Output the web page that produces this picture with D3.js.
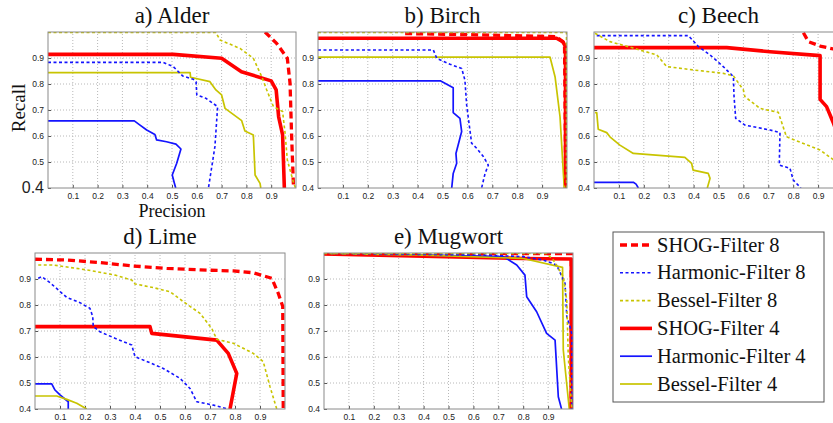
<!DOCTYPE html>
<meta charset="utf-8">
<style>
  body{ margin:0; background:#fff; }
  .tick text{ font-family: "Liberation Sans", Arial, sans-serif; font-size: 8.5px; fill: #222; }
  .tick line{ stroke: #555; }
  text.serif{ font-family: "Liberation Serif", "Times New Roman", "DejaVu Serif", serif; fill: #111; }
  .grid line{ stroke: #b8b8b8; stroke-dasharray: 1,2; }
</style>

<svg width="833" height="423"></svg>

<script src="https://d3js.org/d3.v7.min.js"></script>
<script>
  // data: [precision, recall] pairs
  const seriesNames = ['SHOG-Filter 8', 'Harmonic-Filter 8', 'Bessel-Filter 8',
                       'SHOG-Filter 4', 'Harmonic-Filter 4', 'Bessel-Filter 4']
  const panelTitles = ['a) Alder', 'b) Birch', 'c) Beech', 'd) Lime', 'e) Mugwort']
  const xTicks = [0.1, 0.2, 0.3, 0.4, 0.5, 0.6, 0.7, 0.8, 0.9]
  const yTicks = [0.4, 0.5, 0.6, 0.7, 0.8, 0.9]

  const alderShog8 = [[0.875,1.0],[0.922,0.956],[0.965,0.899],[0.976,0.803],[0.982,0.61],[0.99,0.4]]
  const alderHarm8 = [[0,0.883],[0.465,0.883],[0.505,0.867],[0.543,0.831],[0.586,0.818],[0.597,0.809],[0.6,0.758],[0.637,0.745],[0.684,0.713],[0.673,0.559],[0.647,0.4]]
  const alderBessel8 = [[0,0.998],[0.677,0.998],[0.694,0.969],[0.774,0.937],[0.828,0.899],[0.862,0.828],[0.882,0.777],[0.909,0.713],[0.946,0.694],[0.956,0.61],[0.965,0.508],[0.989,0.424],[0.998,0.4]]
  const alderShog4 = [[0,0.914],[0.505,0.914],[0.70,0.899],[0.78,0.847],[0.90,0.812],[0.92,0.777],[0.93,0.674],[0.946,0.604],[0.953,0.4]]
  const alderHarm4 = [[0,0.658],[0.348,0.658],[0.371,0.642],[0.398,0.623],[0.431,0.606],[0.438,0.585],[0.478,0.578],[0.516,0.569],[0.536,0.55],[0.519,0.495],[0.501,0.45],[0.508,0.424],[0.515,0.4]]
  const alderBessel4 = [[0,0.844],[0.573,0.844],[0.575,0.826],[0.653,0.809],[0.677,0.777],[0.7,0.758],[0.714,0.706],[0.781,0.659],[0.794,0.619],[0.828,0.604],[0.835,0.45],[0.855,0.418],[0.858,0.4]]

  const birchShog8 = [[0.35,0.994],[0.6,0.99],[0.958,0.982],[0.99,0.956],[0.995,0.4]]
  const birchHarm8 = [[0,0.931],[0.463,0.931],[0.477,0.899],[0.53,0.876],[0.577,0.86],[0.59,0.815],[0.597,0.719],[0.617,0.572],[0.637,0.553],[0.664,0.521],[0.684,0.488],[0.671,0.456],[0.657,0.4]]
  const birchBessel8 = [[0,0.998],[0.998,0.998],[0.998,0.4]]
  const birchShog4 = [[0,0.976],[0.958,0.976],[0.983,0.963],[0.994,0.944],[0.994,0.4]]
  const birchHarm4 = [[0,0.812],[0.493,0.812],[0.543,0.786],[0.543,0.69],[0.57,0.668],[0.577,0.617],[0.554,0.533],[0.557,0.495],[0.543,0.456],[0.537,0.4]]
  const birchBessel4 = [[0,0.903],[0.932,0.903],[0.952,0.828],[0.972,0.674],[0.989,0.4]]

  const beechShog8 = [[0.841,0.997],[0.861,0.963],[0.908,0.946],[0.96,0.935],[1.0,0.93]]
  const beechHarm8 = [[0.011,0.986],[0.379,0.986],[0.419,0.944],[0.466,0.912],[0.519,0.867],[0.56,0.828],[0.562,0.758],[0.569,0.668],[0.606,0.642],[0.707,0.623],[0.747,0.613],[0.744,0.488],[0.787,0.476],[0.8,0.431],[0.831,0.4]]
  const beechBessel8 = [[0.004,0.995],[0.064,0.963],[0.151,0.94],[0.252,0.912],[0.292,0.867],[0.399,0.854],[0.519,0.841],[0.56,0.831],[0.6,0.777],[0.606,0.751],[0.667,0.706],[0.74,0.691],[0.773,0.597],[0.908,0.546],[0.96,0.51],[1.0,0.47]]
  const beechShog4 = [[0,0.94],[0.533,0.94],[0.707,0.924],[0.908,0.909],[0.908,0.741],[0.934,0.713],[0.961,0.651],[0.98,0.6]]
  const beechHarm4 = [[0,0.422],[0.158,0.422],[0.169,0.415],[0.178,0.4]]
  const beechBessel4 = [[0.004,0.69],[0.011,0.69],[0.017,0.626],[0.051,0.613],[0.064,0.597],[0.104,0.565],[0.158,0.533],[0.365,0.518],[0.392,0.495],[0.398,0.469],[0.459,0.456],[0.466,0.437],[0.455,0.4]]

  const limeShog8 = [[0,0.976],[0.127,0.973],[0.26,0.963],[0.393,0.95],[0.527,0.941],[0.66,0.935],[0.793,0.931],[0.873,0.924],[0.947,0.903],[0.973,0.845],[0.991,0.794],[0.993,0.4]]
  const limeHarm8 = [[0.013,0.903],[0.027,0.909],[0.06,0.886],[0.093,0.858],[0.127,0.829],[0.18,0.809],[0.22,0.787],[0.231,0.755],[0.233,0.717],[0.26,0.697],[0.32,0.672],[0.387,0.646],[0.4,0.601],[0.46,0.578],[0.513,0.556],[0.58,0.518],[0.62,0.479],[0.647,0.428],[0.713,0.415],[0.773,0.4]]
  const limeBessel8 = [[0.013,0.954],[0.073,0.954],[0.207,0.935],[0.32,0.915],[0.387,0.896],[0.4,0.881],[0.473,0.867],[0.54,0.851],[0.593,0.813],[0.66,0.768],[0.707,0.71],[0.727,0.668],[0.793,0.653],[0.873,0.614],[0.913,0.582],[0.94,0.486],[0.967,0.4]]
  const limeShog4 = [[0,0.717],[0.46,0.717],[0.467,0.691],[0.727,0.665],[0.773,0.614],[0.807,0.537],[0.78,0.4]]
  const limeHarm4 = [[0,0.497],[0.067,0.497],[0.08,0.473],[0.1,0.454],[0.133,0.428],[0.133,0.4]]
  const limeBessel4 = [[0,0.45],[0.087,0.45],[0.127,0.437],[0.167,0.422],[0.207,0.4]]

  const mugShog8 = [[0,0.998],[0.993,0.998],[0.993,0.4]]
  const mugHarm8 = [[0,0.999],[0.64,0.992],[0.8,0.986],[0.881,0.973],[0.934,0.954],[0.968,0.883],[0.975,0.755],[0.988,0.717],[0.996,0.685],[0.996,0.4]]
  const mugBessel8 = [[0,0.998],[0.894,0.998],[0.921,0.973],[0.961,0.909],[0.975,0.819],[0.981,0.601],[0.995,0.4]]
  const mugShog4 = [[0,0.996],[0.399,0.988],[0.8,0.979],[0.993,0.977],[0.993,0.4]]
  const mugHarm4 = [[0,0.999],[0.72,0.986],[0.774,0.954],[0.807,0.915],[0.814,0.832],[0.854,0.774],[0.894,0.691],[0.928,0.665],[0.941,0.447],[0.954,0.4]]
  const mugBessel4 = [[0,0.998],[0.399,0.992],[0.8,0.979],[0.958,0.945],[0.961,0.627],[0.985,0.4]]

  // same order as seriesNames
  const panelSeries = [
    [alderShog8, alderHarm8, alderBessel8, alderShog4, alderHarm4, alderBessel4],
    [birchShog8, birchHarm8, birchBessel8, birchShog4, birchHarm4, birchBessel4],
    [beechShog8, beechHarm8, beechBessel8, beechShog4, beechHarm4, beechBessel4],
    [limeShog8, limeHarm8, limeBessel8, limeShog4, limeHarm4, limeBessel4],
    [mugShog8, mugHarm8, mugBessel8, mugShog4, mugHarm4, mugBessel4]
  ]

  // visual values
  const serifFont = '"Liberation Serif", "Times New Roman", "DejaVu Serif", serif'
  const boxes = [
    {x: 48,  y: 32,  w: 248, h: 156},
    {x: 318, y: 32,  w: 249, h: 156},
    {x: 594, y: 32,  w: 249, h: 156},
    {x: 35,  y: 253, w: 250, h: 156},
    {x: 324, y: 253, w: 249, h: 156}
  ]
  const styles = [
    {color: '#ff0000', width: 3.3, dash: '7,4'},
    {color: '#1414ff', width: 1.6, dash: '3,2.5'},
    {color: '#c8c400', width: 1.6, dash: '3,2.5'},
    {color: '#ff0000', width: 3.6, dash: null},
    {color: '#1414ff', width: 1.7, dash: null},
    {color: '#c8c400', width: 1.7, dash: null}
  ]
  // 4-filters are drawn first, 8-filters on top
  const drawOrder = [3, 4, 5, 0, 1, 2]

  const svg = d3.select('svg')
  const fmt = d3.format('.1f')

  function serifText(sel, size){
    return sel.append('text')
      .attr('class', 'serif')
      .style('font-family', serifFont)
      .style('font-size', size + 'px')
  }

  function drawPanel(series, i){
    const b = boxes[i]
    const x = d3.scaleLinear().domain([0, 1]).range([b.x, b.x + b.w])
    const y = d3.scaleLinear().domain([0.4, 1]).range([b.y + b.h, b.y])
    const g = svg.append('g')

    // dotted grid
    const grid = g.append('g').attr('class', 'grid')
    grid.selectAll('.gx').data(xTicks).enter().append('line')
      .attr('x1', d=>x(d)).attr('x2', d=>x(d))
      .attr('y1', y(0.4)).attr('y2', y(1))
    grid.selectAll('.gy').data(yTicks.slice(1)).enter().append('line')
      .attr('x1', x(0)).attr('x2', x(1))
      .attr('y1', d=>y(d)).attr('y2', d=>y(d))

    // axes, ticks pointing inward
    const xa = g.append('g')
      .attr('transform', 'translate(0,' + y(0.4) + ')')
      .call(d3.axisBottom(x).tickValues(xTicks).tickSize(-3).tickPadding(5).tickFormat(fmt))
    xa.select('.domain').remove()
    const ya = g.append('g')
      .attr('transform', 'translate(' + x(0) + ',0)')
      .call(d3.axisLeft(y).tickValues(yTicks).tickSize(-3).tickPadding(4).tickFormat(fmt))
    ya.select('.domain').remove()
    if(i === 0){
      ya.selectAll('.tick text').filter(d=>d === 0.4).style('font-size', '16px').attr('dy', '0.3em')
    }

    // curves
    g.append('clipPath').attr('id', 'clip' + i)
      .append('rect').attr('x', x(0)).attr('y', y(1)).attr('width', b.w).attr('height', b.h)
    const line = d3.line().x(d=>x(d[0])).y(d=>y(d[1]))
    const curves = g.append('g').attr('clip-path', 'url(#clip' + i + ')')
    drawOrder.forEach(k=>{
      curves.append('path')
        .attr('d', line(series[k]))
        .attr('fill', 'none')
        .attr('stroke', styles[k].color)
        .attr('stroke-width', styles[k].width)
        .attr('stroke-dasharray', styles[k].dash)
        .attr('stroke-linejoin', 'round')
    })

    // box
    g.append('rect')
      .attr('x', x(0)).attr('y', y(1)).attr('width', b.w).attr('height', b.h)
      .attr('fill', 'none').attr('stroke', '#8a8a8a').attr('stroke-width', 1)

    // title
    serifText(g, 23)
      .attr('x', (x(0) + x(1)) / 2).attr('y', b.y - 9)
      .attr('text-anchor', 'middle')
      .text(panelTitles[i])
  }

  panelSeries.forEach(drawPanel)

  // axis labels (only on the first panel)
  serifText(svg, 19)
    .attr('transform', 'translate(25,108) rotate(-90)')
    .attr('text-anchor', 'middle')
    .text('Recall')
  serifText(svg, 18)
    .attr('x', 172).attr('y', 217)
    .attr('text-anchor', 'middle')
    .text('Precision')

  // legend
  const legend = svg.append('g')
  legend.append('rect')
    .attr('x', 613).attr('y', 232).attr('width', 211).attr('height', 170)
    .attr('fill', '#fff').attr('stroke', '#555').attr('stroke-width', 1)
  const rowY = d3.scaleLinear().domain([0, 5]).range([245, 384])
  const rows = legend.selectAll('.row').data(seriesNames).enter().append('g')
    .attr('transform', (d, i)=>'translate(0,' + rowY(i) + ')')
  rows.append('line')
    .attr('x1', 620).attr('x2', 652)
    .attr('stroke', (d, i)=>styles[i].color)
    .attr('stroke-width', (d, i)=>styles[i].width)
    .attr('stroke-dasharray', (d, i)=>styles[i].dash)
  rows.each(function(d){
    serifText(d3.select(this), 20.5).attr('x', 657).attr('y', 6.5).text(d)
  })
</script>
